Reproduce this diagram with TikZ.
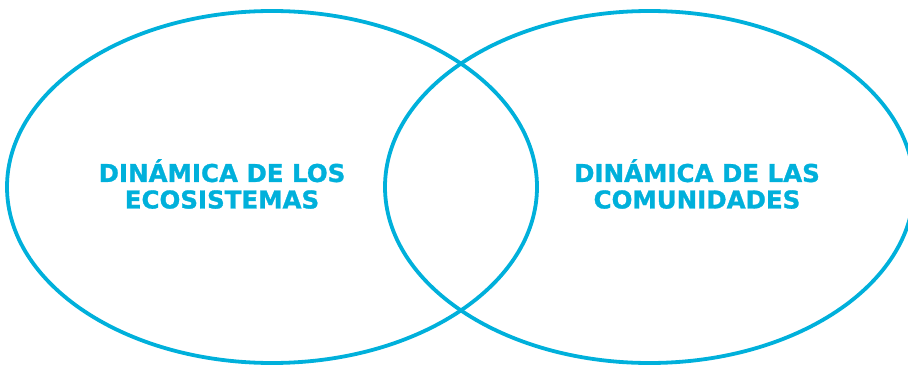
\documentclass[tikz,border=0pt]{standalone}
\usepackage{fontspec}
\setmainfont{DejaVu Sans}
\newfontfamily\heavyfont[FakeBold=1.2]{DejaVu Sans Bold}
\definecolor{vcyan}{RGB}{0,176,219}
\begin{document}
\begin{tikzpicture}[x=1pt,y=-1pt,
  ring/.style={draw=vcyan,line width=3.8pt},
  lbl/.style={text=vcyan,font=\heavyfont\fontsize{24.5}{26.5}\selectfont,align=center,inner sep=0pt}]
\useasboundingbox (0,0) rectangle (908,369);
\begin{scope}
\clip (0,0) rectangle (908,369);
\draw[ring] (272,187) ellipse [x radius=265, y radius=176];
\draw[ring] (649.5,187) ellipse [x radius=264.5, y radius=176];
\end{scope}
\node[lbl] (eco) at (222,184) {DINÁMICA DE LOS\\ECOSISTEMAS};
\node[lbl] (com) at (697,184) {DINÁMICA DE LAS\\COMUNIDADES};
\end{tikzpicture}
\end{document}
